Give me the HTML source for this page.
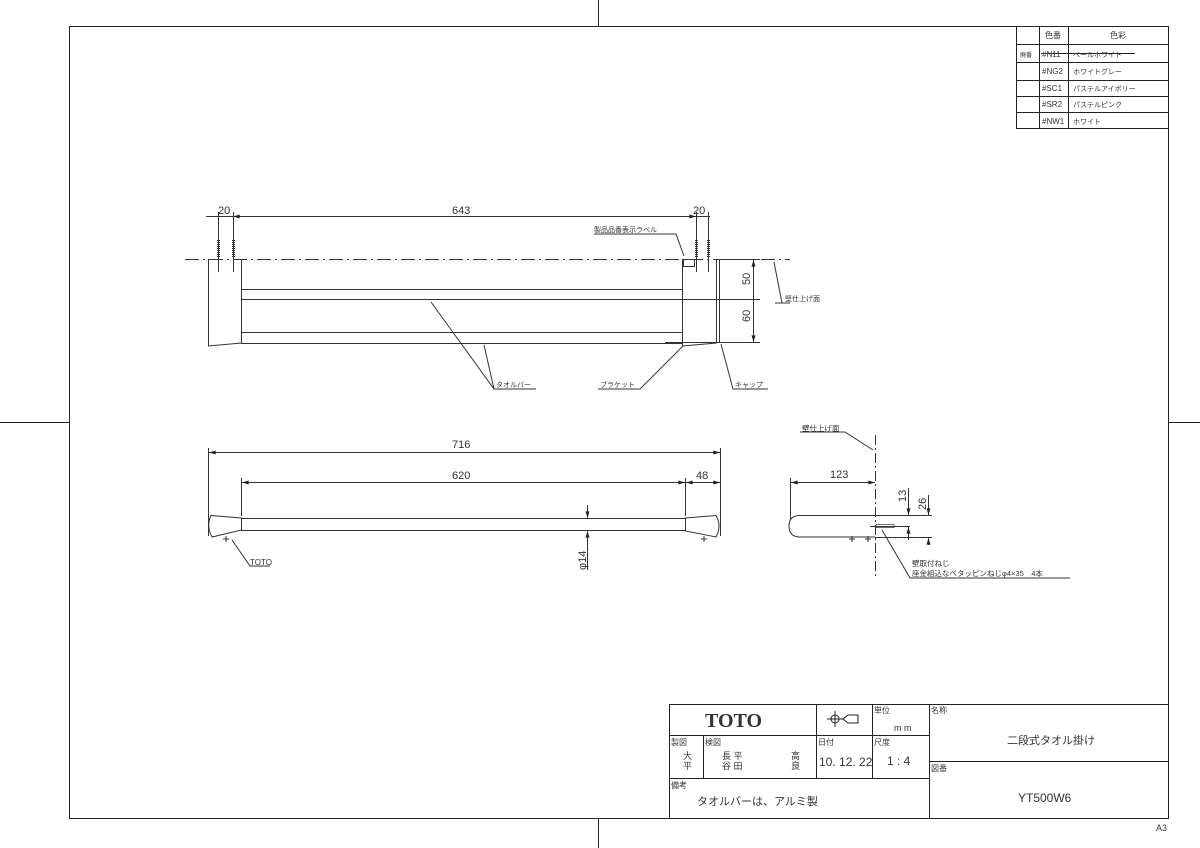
<!DOCTYPE html>
<html><head><meta charset="utf-8"><style>
html,body{margin:0;padding:0;background:#fff}
svg{display:block}
text{font-family:"Liberation Sans","Noto Sans CJK JP",sans-serif;fill:#333}
</style></head><body>
<svg width="1200" height="848" viewBox="0 0 1200 848" xmlns="http://www.w3.org/2000/svg">
<defs>
<marker id="a" viewBox="0 0 10 6" refX="10" refY="3" markerWidth="8" markerHeight="4" orient="auto-start-reverse"><path d="M0,0L10,3L0,6z" fill="#222"/></marker>
</defs>
<g stroke="#222" fill="none" stroke-width="1">
<rect x="69.5" y="26.5" width="1099" height="792"/>
<line x1="598.5" y1="0" x2="598.5" y2="26"/><line x1="598.5" y1="818" x2="598.5" y2="848"/>
<line x1="0" y1="422.5" x2="69" y2="422.5"/><line x1="1168" y1="422.5" x2="1200" y2="422.5"/>
<!-- color table -->
<rect x="1016.5" y="26.5" width="152" height="102"/>
<line x1="1039.5" y1="26" x2="1039.5" y2="129"/><line x1="1068.5" y1="26" x2="1068.5" y2="129"/>
<line x1="1016" y1="44.5" x2="1168" y2="44.5"/><line x1="1016" y1="62.5" x2="1168" y2="62.5"/>
<line x1="1016" y1="80.5" x2="1168" y2="80.5"/><line x1="1016" y1="96.5" x2="1168" y2="96.5"/>
<line x1="1016" y1="112.5" x2="1168" y2="112.5"/>
<line x1="1041" y1="53.5" x2="1135" y2="53.5"/>
</g>
<g font-size="8">
<text x="1045" y="38">色番</text><text x="1110" y="38">色彩</text>
<text x="1020" y="57" font-size="6">廃番</text>
<text x="1042" y="57">#N11</text><text x="1073" y="57" font-size="7">ペールホワイト</text>
<text x="1042" y="74">#NG2</text><text x="1073" y="74" font-size="7">ホワイトグレー</text>
<text x="1042" y="91">#SC1</text><text x="1073" y="91" font-size="7">パステルアイボリー</text>
<text x="1042" y="107">#SR2</text><text x="1073" y="107" font-size="7">パステルピンク</text>
<text x="1042" y="124">#NW1</text><text x="1073" y="124" font-size="7">ホワイト</text>
</g>

<!-- top view -->
<g stroke="#333" fill="none" stroke-width="1">
<line x1="185" y1="259.5" x2="790" y2="259.5" stroke-dasharray="14,4,2,4"/>
<path d="M208.5,259 L208.5,346 L241.5,343 L241.5,259"/>
<path d="M241,289.5 H682 M241,299.5 H682 M241,332.5 H682 M241,343.5 H682"/>
<line x1="682.5" y1="259" x2="682.5" y2="346"/>
<path d="M682.5,346 L716.5,343 L716.5,259"/>
<line x1="719.5" y1="259" x2="719.5" y2="343"/>
<rect x="683.5" y="259.5" width="11" height="7"/>
<line x1="716" y1="259.5" x2="760" y2="259.5"/>
<line x1="665" y1="299.5" x2="760" y2="299.5"/>
<line x1="665" y1="342.5" x2="760" y2="342.5"/>
<line x1="753.5" y1="260" x2="753.5" y2="342" marker-start="url(#a)" marker-end="url(#a)"/>
<line x1="753.5" y1="299" x2="753.5" y2="299" />
<!-- top dims -->
<line x1="206" y1="216.5" x2="710" y2="216.5"/>
<line x1="218.5" y1="212" x2="218.5" y2="272"/><line x1="233.5" y1="212" x2="233.5" y2="272"/>
<line x1="696.5" y1="212" x2="696.5" y2="272"/><line x1="708.5" y1="212" x2="708.5" y2="272"/>
<line x1="233" y1="216.5" x2="696" y2="216.5" marker-start="url(#a)" marker-end="url(#a)"/>
<path d="M218.5,240 v18 M233.5,240 v18 M696.5,240 v18 M708.5,240 v18" stroke-width="3" stroke-dasharray="1,1"/>
<!-- leaders -->
<path d="M536,389 H494 L431,302" /><path d="M494,389 L484,345"/>
<path d="M598,389 H640 L683,346"/>
<path d="M768,389 H733 L721,344"/>
<path d="M775,303 H790 M782,303 L774,262"/>
<path d="M594,234 H676 L684,256"/>
</g>
<g font-size="11">
<text x="218" y="214">20</text><text x="452" y="214">643</text><text x="693" y="214">20</text>
</g>
<g font-size="7">
<text x="594" y="232">製品品番表示ラベル</text>
<text x="496" y="387">タオルバー</text>
<text x="600" y="387">ブラケット</text>
<text x="735" y="387">キャップ</text>
<text x="785" y="301">壁仕上げ面</text>
</g>
<text font-size="11" transform="translate(750,285) rotate(-90)">50</text>
<text font-size="11" transform="translate(750,322) rotate(-90)">60</text>

<!-- front view -->
<g stroke="#333" fill="none" stroke-width="1">
<line x1="208.5" y1="448" x2="208.5" y2="536"/><line x1="720.5" y1="448" x2="720.5" y2="536"/>
<line x1="209" y1="452.5" x2="720" y2="452.5" marker-start="url(#a)" marker-end="url(#a)"/>
<line x1="241.5" y1="478" x2="241.5" y2="516"/><line x1="685.5" y1="478" x2="685.5" y2="516"/>
<line x1="242" y1="482.5" x2="685" y2="482.5" marker-start="url(#a)" marker-end="url(#a)"/>
<line x1="686" y1="482.5" x2="720" y2="482.5" marker-start="url(#a)" marker-end="url(#a)"/>
<path d="M241,518.5 H685 M241,530.5 H685"/>
<path d="M211,515.5 L241.5,518 L241.5,530 L212,537 Q206,526 211,515.5Z"/>
<path d="M685.5,518 L716,515.5 Q722,526 716,537 L685.5,531Z"/>
<line x1="587.5" y1="505" x2="587.5" y2="518" marker-end="url(#a)"/>
<line x1="587.5" y1="545" x2="587.5" y2="531" marker-end="url(#a)"/>
<line x1="587.5" y1="531" x2="587.5" y2="570"/>
<path d="M226,536 v6 M223,539 h6 M704,536 v6 M701,539 h6"/>
<path d="M270,566 H250 L232,540"/>
</g>
<g font-size="11"><text x="452" y="448">716</text><text x="452" y="479">620</text><text x="696" y="479">48</text></g>
<text font-size="11" transform="translate(586,570) rotate(-90)">φ14</text>
<text x="250" y="565" font-size="8">TOTO</text>

<!-- side view -->
<g stroke="#333" fill="none" stroke-width="1">
<line x1="875.5" y1="435" x2="875.5" y2="578" stroke-dasharray="10,3,2,3"/>
<line x1="790.5" y1="478" x2="790.5" y2="520"/>
<line x1="791" y1="482.5" x2="875" y2="482.5" marker-start="url(#a)" marker-end="url(#a)"/>
<path d="M875,515.5 H800 Q789,515.5 789,526 Q789,537 800,537 H875"/>
<line x1="875" y1="515.5" x2="932" y2="515.5"/><line x1="875" y1="537.5" x2="932" y2="537.5"/>
<line x1="870" y1="526.5" x2="910" y2="526.5"/>
<line x1="908.5" y1="488" x2="908.5" y2="515" marker-end="url(#a)"/>
<line x1="908.5" y1="540" x2="908.5" y2="527" marker-end="url(#a)"/>
<line x1="928.5" y1="495" x2="928.5" y2="515" marker-end="url(#a)"/>
<line x1="928.5" y1="545" x2="928.5" y2="538" marker-end="url(#a)"/>
<rect x="876" y="524.5" width="18" height="3" stroke-width="0.7"/>
<path d="M852,536 v6 M849,539 h6 M868,536 v6 M865,539 h6"/>
<path d="M800,432 H845 L873,450"/>
<path d="M1070,578 H910 L882,530"/>
</g>
<text x="830" y="478" font-size="11">123</text>
<text font-size="11" transform="translate(906,502) rotate(-90)">13</text>
<text font-size="11" transform="translate(926,510) rotate(-90)">26</text>
<g font-size="7.5">
<text x="802" y="431">壁仕上げ面</text>
<text x="912" y="566">壁取付ねじ</text>
<text x="912" y="576">座金組込なべタッピンねじφ4×35　4本</text>
</g>

<!-- title block -->
<g stroke="#222" fill="none" stroke-width="1">
<rect x="669.5" y="704.5" width="499" height="114"/>
<line x1="929.5" y1="704" x2="929.5" y2="818"/>
<line x1="669" y1="735.5" x2="929" y2="735.5"/>
<line x1="669" y1="778.5" x2="929" y2="778.5"/>
<line x1="929" y1="761.5" x2="1168" y2="761.5"/>
<line x1="816.5" y1="704" x2="816.5" y2="778"/>
<line x1="872.5" y1="704" x2="872.5" y2="778"/>
<line x1="703.5" y1="735" x2="703.5" y2="778"/>
<circle cx="835" cy="719" r="4"/><path d="M827,719h16M835,711v16M843,719 L848,715 H858 V723 H848Z"/>
</g>
<text x="705" y="727" font-size="20" font-weight="bold" font-family="Liberation Serif,serif" style="font-family:'Liberation Serif',serif">TOTO</text>
<g font-size="8">
<text x="874" y="713">単位</text><text x="931" y="713">名称</text>
<text x="671" y="745">製図</text><text x="705" y="745">検図</text><text x="818" y="745">日付</text><text x="874" y="745">尺度</text>
<text x="671" y="788">備考</text><text x="931" y="771">図番</text>
</g>
<g font-size="9" fill="#555">
<text x="894" y="731">m m</text>
<text x="683" y="759">大</text><text x="683" y="769">平</text>
<text x="722" y="759">長 平</text><text x="722" y="769">谷 田</text>
<text x="791" y="759">高</text><text x="791" y="769">良</text>
</g>
<text x="819" y="766" font-size="12" fill="#666">10. 12. 22</text>
<text x="887" y="765" font-size="12">1 : 4</text>
<text x="1007" y="744" font-size="11">二段式タオル掛け</text>
<text x="1018" y="802" font-size="12" fill="#555">YT500W6</text>
<text x="697" y="805" font-size="11">タオルバーは、アルミ製</text>
<text x="1156" y="831" font-size="9">A3</text>
</svg>
</body></html>
